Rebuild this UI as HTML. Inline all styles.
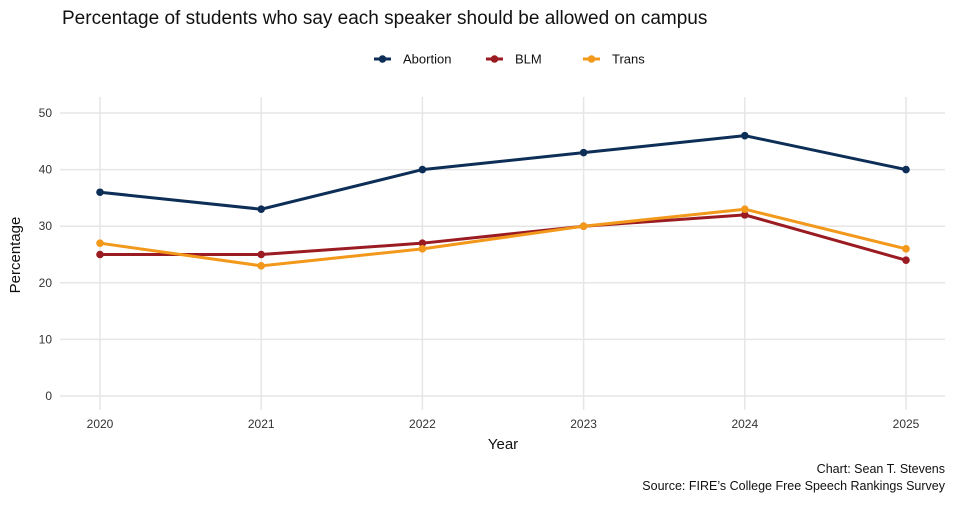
<!DOCTYPE html>
<html><head><meta charset="utf-8"><style>
body{margin:0;background:#fff;font-family:"Liberation Sans",sans-serif;}
svg text{font-family:"Liberation Sans",sans-serif;}
</style></head><body>
<svg id="chart" width="955" height="503" xmlns="http://www.w3.org/2000/svg">
<text x="62" y="24" font-size="19" fill="#111">Percentage of students who say each speaker should be allowed on campus</text>
<g id="legend"></g>
<g id="grid"></g>
<g id="series"></g>
<text transform="translate(20,255) rotate(-90)" text-anchor="middle" font-size="15" fill="#111">Percentage</text>
<text x="503" y="449" text-anchor="middle" font-size="15" fill="#111">Year</text>
<text x="945" y="473" text-anchor="end" font-size="12.5" fill="#111">Chart: Sean T. Stevens</text>
<text x="945" y="490" text-anchor="end" font-size="12.5" fill="#111">Source: FIRE’s College Free Speech Rankings Survey</text>
</svg>
<script>
const years=[2020,2021,2022,2023,2024,2025];
const abortion=[36,33,40,43,46,40];
const blm=[25,25,27,30,32,24];
const trans=[27,23,26,30,33,26];
const yTicks=[0,10,20,30,40,50];
const seriesNames=["Abortion","BLM","Trans"];
const NS="http://www.w3.org/2000/svg";
const x=v=>100+(v-2020)*(906-100)/5;
const y=v=>396-v*(396-113)/50;
function mk(t,a,p){const e=document.createElementNS(NS,t);for(const k in a)e.setAttribute(k,a[k]);p.appendChild(e);return e;}
const grid=document.getElementById('grid');
yTicks.forEach(t=>{
  const l=mk('line',{x1:60,x2:945,y1:y(t),y2:y(t),stroke:'#e6e6e6','stroke-width':1.5},grid);
  
  
  const tx=mk('text',{x:52,y:y(t)+4,'text-anchor':'end','font-size':12,fill:'#333'},grid);
  tx.textContent=t;
  
  
});
years.forEach(yr=>{
  const l=mk('line',{x1:x(yr),x2:x(yr),y1:97,y2:410,stroke:'#e6e6e6','stroke-width':1.5},grid);
  
  
  const tx=mk('text',{x:x(yr),y:428,'text-anchor':'middle','font-size':12,fill:'#333'},grid);
  tx.textContent=yr;
  
  
});
const colors=["#0d2e57","#9a1c22","#f2981b"];
const data=[abortion,blm,trans];
const sg=document.getElementById('series');
data.forEach((d,i)=>{
  const g=mk('g',{},sg);
  
  
  const p=mk('polyline',{points:d.map((v,j)=>x(years[j])+','+y(v)).join(' '),fill:'none',stroke:colors[i],'stroke-width':3},g);
  
  
  d.forEach((v,j)=>{
    const c=mk('circle',{cx:x(years[j]),cy:y(v),r:3.8,fill:colors[i]},g);
    
    
  });
});
const lg=document.getElementById('legend');
const lx=[374,486,583];
seriesNames.forEach((n,i)=>{
  const g=mk('g',{},lg);
  
  
  mk('line',{x1:lx[i],x2:lx[i]+17,y1:59,y2:59,stroke:colors[i],'stroke-width':3},g);
  mk('circle',{cx:lx[i]+8.5,cy:59,r:3.8,fill:colors[i]},g);
  const t=mk('text',{x:lx[i]+29,y:63.5,'font-size':13,fill:'#111'},g);
  t.textContent=n;
});
</script>
</body></html>
